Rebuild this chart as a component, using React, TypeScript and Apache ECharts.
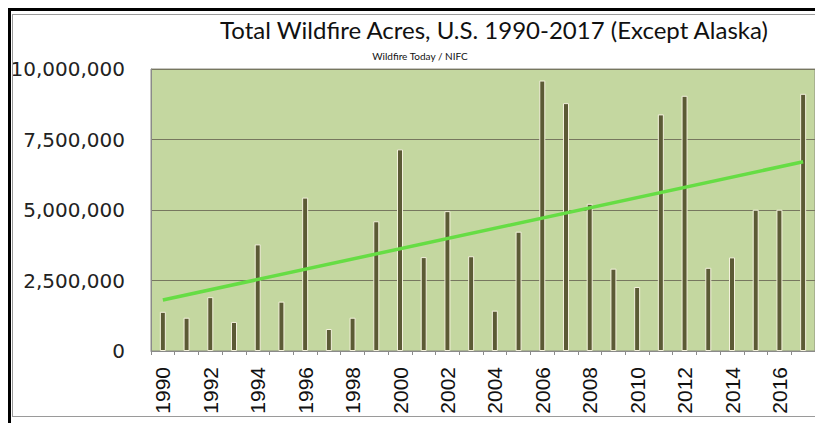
import React, { useEffect, useRef } from "react";
import * as echarts from "echarts";

const years = [
  "1990", "1991", "1992", "1993", "1994", "1995", "1996", "1997", "1998", "1999",
  "2000", "2001", "2002", "2003", "2004", "2005", "2006", "2007", "2008", "2009",
  "2010", "2011", "2012", "2013", "2014", "2015", "2016", "2017",
];
const acres = [
  1390000, 1180000, 1910000, 1030000, 3780000, 1750000, 5440000, 780000, 1180000, 4600000,
  7150000, 3330000, 4960000, 3360000, 1430000, 4230000, 9590000, 8790000, 5220000, 2920000,
  2270000, 8390000, 9050000, 2950000, 3320000, 5010000, 5010000, 9120000,
];
const trendStart = 1810000;
const trendEnd = 6710000;
const yTicks = [0, 2500000, 5000000, 7500000, 10000000];

const titleText = "Total Wildfire Acres, U.S. 1990-2017 (Except Alaska)";
const subtitleText = "Wildfire Today / NIFC";

export default function App() {
  const ref = useRef<HTMLDivElement>(null);
  useEffect(() => {
    if (!ref.current) return;
    const chart = echarts.init(ref.current, null, { renderer: "svg" });
    const trend = years.map((_, i) =>
      i === 0 ? trendStart : i === years.length - 1 ? trendEnd : null
    );
    chart.setOption({
      animation: false,
      backgroundColor: "#ffffff",
      title: [
        {
          text: titleText,
          left: 489,
          top: 12,
          textAlign: "center",
          textStyle: {
            fontFamily: "Lato, 'DejaVu Sans', sans-serif",
            fontSize: 24,
            fontWeight: "normal",
            color: "#111",
          },
        },
        {
          text: subtitleText,
          left: 415,
          top: 46,
          textAlign: "center",
          textStyle: {
            fontFamily: "Lato, sans-serif",
            fontSize: 10,
            fontWeight: "normal",
            color: "#111",
          },
        },
      ],
      graphic: [
        {
          type: "line",
          shape: { x1: 8, y1: 9.5, x2: 815, y2: 9.5 },
          style: { stroke: "#000", lineWidth: 3 },
          z: 100,
        },
        {
          type: "line",
          shape: { x1: 9.5, y1: 8, x2: 9.5, y2: 423 },
          style: { stroke: "#000", lineWidth: 3 },
          z: 100,
        },
        {
          type: "line",
          shape: { x1: 12, y1: 14.5, x2: 815, y2: 14.5 },
          style: { stroke: "#9a9a9a", lineWidth: 1 },
          z: 100,
        },
        {
          type: "line",
          shape: { x1: 12.5, y1: 14, x2: 12.5, y2: 417 },
          style: { stroke: "#9a9a9a", lineWidth: 1 },
          z: 100,
        },
        {
          type: "line",
          shape: { x1: 12, y1: 416.5, x2: 815, y2: 416.5 },
          style: { stroke: "#9a9a9a", lineWidth: 1 },
          z: 100,
        },
      ],
      grid: {
        left: 151,
        top: 69,
        right: -3,
        bottom: 72,
        show: true,
        backgroundColor: "#c4d7a0",
        borderColor: "#8c8c80",
        borderWidth: 1,
      },
      xAxis: {
        type: "category",
        data: years,
        boundaryGap: true,
        axisLine: { show: true, lineStyle: { color: "#8a8a8a", width: 1 } },
        axisTick: { show: true, interval: 0, length: 4, lineStyle: { color: "#8a8a8a" } },
        axisLabel: {
          interval: 1,
          rotate: 90,
          margin: 16,
          fontFamily: "'Liberation Sans', Arial, sans-serif",
          fontSize: 21,
          color: "#111",
        },
        splitLine: { show: false },
      },
      yAxis: {
        type: "value",
        min: 0,
        max: 10000000,
        interval: 2500000,
        axisLine: { show: true, lineStyle: { color: "#8a8a8a", width: 1 } },
        axisTick: { show: false },
        axisLabel: {
          margin: 26,
          fontFamily: "'DejaVu Sans', Verdana, sans-serif",
          fontSize: 20,
          color: "#222",
          formatter: (v: number) =>
            yTicks.includes(v) ? v.toLocaleString("en-US") : "",
        },
        splitLine: { show: true, lineStyle: { color: "#77775f", width: 1 } },
      },
      series: [
        {
          type: "bar",
          data: acres,
          barWidth: 6,
          itemStyle: { color: "#5b5a35", borderColor: "#f3f1dc", borderWidth: 1 },
          z: 2,
        },
        {
          type: "line",
          data: trend,
          connectNulls: true,
          symbol: "none",
          lineStyle: { color: "#66dd44", width: 3.5 },
          z: 3,
        },
      ],
    });
    return () => chart.dispose();
  }, []);
  return (
    <div
      ref={ref}
      style={{ position: "fixed", left: 0, top: 0, width: 815, height: 423 }}
    />
  );
}
